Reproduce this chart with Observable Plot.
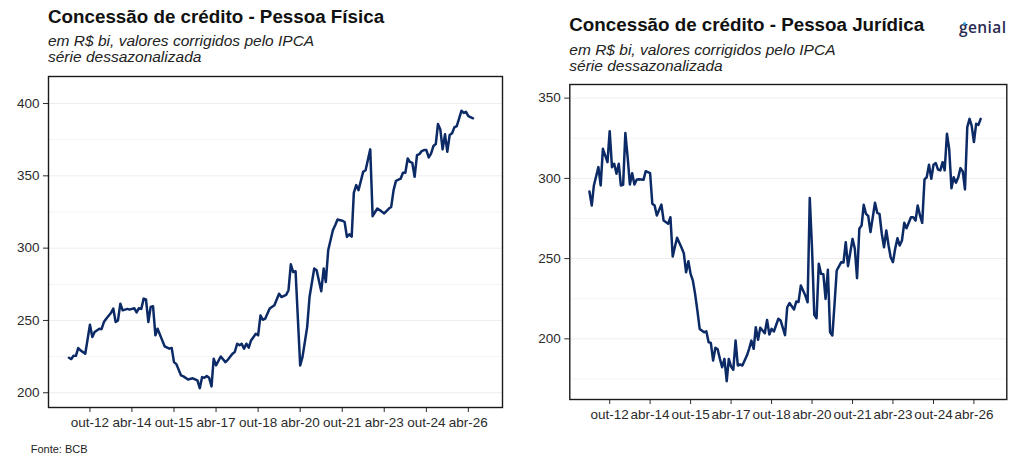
<!DOCTYPE html>
<html>
<head>
<meta charset="utf-8">
<script src="https://cdn.jsdelivr.net/npm/d3@7"></script>
<script src="https://cdn.jsdelivr.net/npm/@observablehq/plot@0.6"></script>
<style>
  html, body { margin: 0; padding: 0; background: #fff; }
  #root { position: relative; width: 1024px; height: 466px; background: #fff; overflow: hidden;
          font-family: "Liberation Sans", Arial, sans-serif; color: #111; }
  .title { position: absolute; font-weight: bold; font-size: 18.8px; line-height: 22px; white-space: nowrap; color: #111; }
  .sub { position: absolute; font-style: italic; font-size: 15.5px; line-height: 16px; white-space: nowrap; color: #222; }
  .plot { position: absolute; }
  .src { position: absolute; font-size: 11px; line-height: 13px; color: #222; }
  .logo { position: absolute; font-family: "Open Sans", sans-serif; font-weight: 600; font-size: 15.5px;
          letter-spacing: 0.4px; color: #2a2a52; line-height: 18px; }
  .logodot { position: absolute; width: 3px; height: 3px; border-radius: 2px; background: #36a9e1; }
</style>
</head>
<body>
<div id="root">
  <div class="title" style="left:48px; top:5.8px;">Concessão de crédito - Pessoa Física</div>
  <div class="sub" style="left:48px; top:33.3px;">em R$ bi, valores corrigidos pelo IPCA<br>série dessazonalizada</div>
  <div class="title" style="left:569.3px; top:13.5px;">Concessão de crédito - Pessoa Jurídica</div>
  <div class="sub" style="left:569.3px; top:41.6px;">em R$ bi, valores corrigidos pelo IPCA<br>série dessazonalizada</div>
  <div class="logo" style="left:959px; top:17.5px;">genial</div>
  <div class="logodot" style="left:963px; top:22px;"></div>
  <div id="pf" class="plot" style="left:0px; top:70px;"></div>
  <div id="pj" class="plot" style="left:512px; top:78px;"></div>
  <div class="src" style="left:30.7px; top:442.7px;">Fonte: BCB</div>
</div>
<script>
// ---- Data ----
const pfDates = ["2012-01","2012-02","2012-03","2012-04","2012-05","2012-06","2012-08","2012-10","2012-11","2012-12",
"2013-02","2013-03","2013-04","2013-05","2013-07","2013-08","2013-09","2013-10","2013-11","2013-12",
"2014-02","2014-03","2014-05","2014-06","2014-07","2014-08","2014-09","2014-10","2014-11","2014-12",
"2015-01","2015-02","2015-03","2015-05","2015-06","2015-08","2015-09","2015-10","2015-11",
"2016-01","2016-02","2016-04","2016-06","2016-08","2016-09","2016-10","2016-11","2016-12",
"2017-01","2017-02","2017-03","2017-04","2017-06","2017-08","2017-09","2017-11","2017-12",
"2018-01","2018-02","2018-03","2018-04","2018-05","2018-06","2018-07","2018-09","2018-10","2018-11","2018-12",
"2019-01","2019-03","2019-05","2019-07","2019-08","2019-10","2019-11","2019-12",
"2020-01","2020-02","2020-04","2020-05","2020-07","2020-08","2020-10","2020-11",
"2021-01","2021-02","2021-03","2021-04","2021-06","2021-07","2021-08","2021-10","2021-11","2021-12",
"2022-01","2022-02","2022-03","2022-04","2022-05","2022-07","2022-08","2022-10","2022-11",
"2023-01","2023-02","2023-04","2023-06","2023-07","2023-08","2023-09","2023-11","2023-12",
"2024-01","2024-02","2024-03","2024-04","2024-05","2024-06","2024-07","2024-08","2024-09","2024-10","2024-11","2024-12",
"2025-01","2025-02","2025-03","2025-04","2025-05","2025-06","2025-07","2025-08","2025-09","2025-10","2025-11",
"2026-01","2026-02","2026-03","2026-04","2026-06"];
const pfValues = [224.2,223.3,225.6,225.5,230.9,229.3,227.0,247.1,238.5,242.0,
244.3,244.0,248.9,251.2,255.1,258.2,248.9,250.0,261.6,257.0,
258.0,257.5,258.5,255.5,258.5,258.0,265.1,264.5,248.9,259.3,
259.8,239.7,244.3,236.2,232.1,230.5,231.0,221.2,219.8,
212.0,211.3,209.2,210.0,208.5,203.2,210.8,210.3,211.5,
210.3,204.4,223.5,218.9,225.1,221.2,222.8,227.0,228.2,
233.9,232.8,233.9,230.5,233.9,231.2,236.2,240.8,239.7,253.5,250.5,
251.2,258.2,260.5,268.5,266.2,267.7,270.9,288.8,
283.5,284.0,218.9,224.6,245.4,266.2,285.9,284.7,
270.2,285.9,276.6,298.5,312.4,315.9,319.8,319.0,318.1,307.8,
309.6,308.0,338.2,343.6,340.1,352.8,353.9,368.3,322.1,
327.4,326.3,324.0,327.4,328.5,340.1,346.5,348.0,352.1,
352.1,362.0,359.6,358.9,349.3,364.3,365.0,367.1,367.8,367.8,362.7,365.4,
370.6,372.0,385.8,382.0,368.3,378.7,366.6,378.3,379.5,383.5,384.4,
395.0,393.5,394.3,391.3,389.8];

const pjDates = ["2012-01","2012-02","2012-03","2012-05","2012-06","2012-07","2012-09","2012-10","2012-11","2012-12",
"2013-01","2013-02","2013-03","2013-04","2013-05","2013-06","2013-07","2013-08","2013-09","2013-10","2013-11",
"2014-01","2014-02","2014-04","2014-05","2014-06","2014-07","2014-09","2014-10","2014-12",
"2015-01","2015-02","2015-03","2015-04","2015-06","2015-07","2015-08","2015-09","2015-10","2015-11","2015-12",
"2016-01","2016-02","2016-04","2016-05","2016-06","2016-07","2016-08","2016-09","2016-10","2016-11","2016-12",
"2017-01","2017-02","2017-03","2017-04","2017-05","2017-06","2017-07","2017-08","2017-09","2017-11","2017-12",
"2018-01","2018-02","2018-03","2018-04","2018-05","2018-06","2018-07","2018-08","2018-09","2018-10","2018-11",
"2019-01","2019-02","2019-04","2019-05","2019-06","2019-08","2019-09","2019-10","2019-11",
"2020-01","2020-02","2020-03","2020-04","2020-05","2020-06","2020-07","2020-08","2020-09","2020-10","2020-11","2020-12",
"2021-01","2021-02","2021-03","2021-05","2021-06","2021-07","2021-08","2021-10","2021-11","2021-12",
"2022-01","2022-02","2022-03","2022-04","2022-05","2022-06","2022-08","2022-09","2022-10","2022-11","2022-12",
"2023-01","2023-02","2023-03","2023-04","2023-05","2023-06","2023-07","2023-08","2023-09","2023-10","2023-11","2023-12",
"2024-01","2024-02","2024-03","2024-04","2024-05","2024-06","2024-07","2024-08","2024-09","2024-10","2024-11","2024-12",
"2025-01","2025-02","2025-03","2025-04","2025-05","2025-06","2025-07","2025-08","2025-09","2025-10","2025-11","2025-12",
"2026-01","2026-02","2026-03","2026-04","2026-05","2026-06","2026-07"];
const pjValues = [291.8,283.1,295.6,307.0,295.6,318.4,310.1,329.4,307.0,309.1,
302.9,309.1,295.6,296.0,328.2,313.2,296.2,303.2,296.2,299.1,299.5,
299.1,304.5,303.2,284.2,283.1,276.9,283.7,273.7,271.7,
275.8,251.3,257.1,263.0,256.7,253.4,241.5,248.4,240.5,236.3,228.0,
217.6,206.2,204.1,204.7,197.9,197.5,186.5,194.4,193.5,187.5,182.3,
187.5,173.6,187.5,182.7,180.7,198.9,183.4,184.0,183.4,189.6,193.8,
198.9,193.8,207.2,199.4,206.9,205.2,203.5,211.8,202.7,206.2,204.6,
212.5,211.4,202.3,219.7,222.3,218.3,223.3,223.0,233.2,
227.0,222.8,287.7,256.1,215.0,212.8,246.8,240.5,240.3,224.9,243.0,204.1,
202.1,222.8,242.6,247.8,247.6,260.2,245.3,262.3,256.1,237.8,
268.6,270.7,283.5,277.9,276.6,266.5,284.8,278.5,277.9,265.5,257.1,
267.5,258.2,250.9,247.8,256.1,262.7,258.2,261.3,272.3,268.9,272.3,275.8,
275.8,273.7,283.1,276.9,272.3,299.3,300.7,308.5,299.7,308.5,309.5,305.5,
305.0,310.1,305.0,327.8,318.4,293.9,300.7,297.3,300.7,306.4,304.3,293.1,
331.9,337.1,332.9,322.6,334.0,333.3,337.1];

const xTickDates = ["2012-10-01","2014-04-01","2015-10-01","2017-04-01","2018-10-01","2020-04-01","2021-10-01","2023-04-01","2024-10-01","2026-04-01"];
const xTickLabels = ["out-12","abr-14","out-15","abr-17","out-18","abr-20","out-21","abr-23","out-24","abr-26"];
const pfYTicks = [200, 250, 300, 350, 400];
const pfYMinor = [225, 275, 325, 375];
const pjYTicks = [200, 250, 300, 350];
const pjYMinor = [175, 225, 275, 325];

// ---- Build ----
const parseMonth = d3.utcParse("%Y-%m");
const pfData = pfDates.map((d, i) => ({date: parseMonth(d), value: pfValues[i]}));
const pjData = pjDates.map((d, i) => ({date: parseMonth(d), value: pjValues[i]}));
const tickDates = xTickDates.map(d => new Date(d + "T00:00:00Z"));
const labelMap = new Map(tickDates.map((d, i) => [+d, xTickLabels[i]]));
const xDomain = [new Date("2011-04-10T00:00:00Z"), new Date("2027-06-20T00:00:00Z")];
const lineColor = "#0c2a66";

function makeChart(data, yDomain, yTicks, yMinor, opts) {
  return Plot.plot({
    width: 512,
    height: opts.height,
    marginLeft: opts.ml,
    marginRight: opts.mr,
    marginTop: 6,
    marginBottom: opts.mb,
    style: {fontFamily: "'Liberation Sans', Arial, sans-serif", fontSize: "13.5px", color: "#2b2b2b", background: "transparent", overflow: "visible"},
    x: {type: "utc", domain: xDomain, ticks: tickDates, tickFormat: d => labelMap.get(+d), tickSize: 5, tickPadding: 5, label: null},
    y: {domain: yDomain, ticks: yTicks, tickSize: 5, tickPadding: 4, label: null},
    marks: [
      Plot.ruleY(yMinor, {stroke: "#f1f1f1", strokeWidth: 0.8}),
      Plot.ruleY(yTicks, {stroke: "#ededed", strokeWidth: 1}),
      Plot.line(data, {x: "date", y: "value", stroke: lineColor, strokeWidth: 2.5, strokeLinejoin: "round"}),
      Plot.frame({stroke: "#1a1a1a", strokeWidth: 1.4})
    ]
  });
}

document.getElementById("pf").appendChild(
  makeChart(pfData, [189.8, 418.7], pfYTicks, pfYMinor, {height: 370, ml: 48, mr: 10, mb: 33}));
document.getElementById("pj").appendChild(
  makeChart(pjData, [162.2, 358.5], pjYTicks, pjYMinor, {height: 350, ml: 57.3, mr: 17.7, mb: 29}));
</script>
</body>
</html>
